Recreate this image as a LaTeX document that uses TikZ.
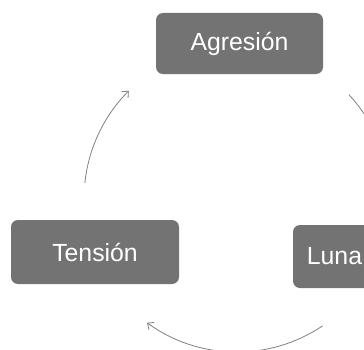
\documentclass[tikz,border=0pt]{standalone}
\usepackage{fontspec}
\setmainfont{Liberation Sans}
\usepackage{xcolor}
\usepackage{tikz}
\usetikzlibrary{arrows.meta}

\definecolor{boxgray}{RGB}{115,115,115}
\definecolor{arrowgray}{RGB}{128,128,128}

\begin{document}
\begin{tikzpicture}[
	x=1pt, y=1pt,
	graybox/.style={shape=rectangle, rounded corners=7pt, fill=boxgray, draw=none, text=white, font=\fontsize{24.8}{30}\selectfont},
	cyclearrow/.style={draw=arrowgray, line width=0.8pt, -{Straight Barb[length=5pt,width=9pt]}},
]
\useasboundingbox (0,0) rectangle (364,349);
\clip (0,0) rectangle (364,349);
\node[graybox, minimum width=167pt, minimum height=61pt] (agresion) at (239.5,305.5) {Agresión};
\node[graybox, minimum width=168pt, minimum height=64pt] (tension) at (95,97) {Tensión};
\node[graybox, minimum width=83pt, minimum height=63pt] (luna) at (334.5,92.5) {Luna};
\coordinate (hub) at (237,150);
\draw[cyclearrow] ([shift={(174:153pt)}]hub) arc[start angle=174, end angle=135, radius=153pt];
\draw[cyclearrow] ([shift={(43:153pt)}]hub) arc[start angle=43, end angle=5, radius=153pt];
\draw[cyclearrow] ([shift={(304:153pt)}]hub) arc[start angle=304, end angle=234, radius=153pt];
\end{tikzpicture}
\end{document}
